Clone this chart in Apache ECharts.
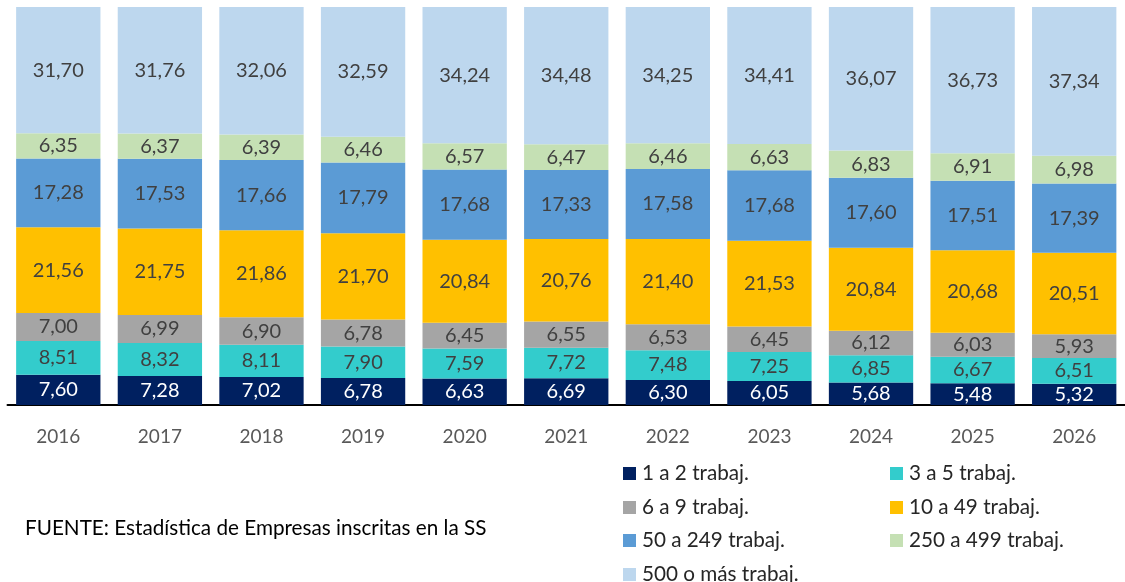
<!DOCTYPE html>
<html>
<head>
<meta charset="utf-8">
<script src="https://cdn.jsdelivr.net/npm/echarts@6/dist/echarts.min.js"></script>
<style>
html,body{margin:0;padding:0;background:#fff;}
#c{width:1125px;height:582px;}
</style>
</head>
<body>
<div id="c"></div>
<script>
const years = ['2016','2017','2018','2019','2020','2021','2022','2023','2024','2025','2026'];
const seriesNames = ['1 a 2 trabaj.','3 a 5 trabaj.','6 a 9 trabaj.','10 a 49 trabaj.','50 a 249 trabaj.','250 a 499 trabaj.','500 o más trabaj.'];
const s1a2 = [7.60,7.28,7.02,6.78,6.63,6.69,6.30,6.05,5.68,5.48,5.32];
const s3a5 = [8.51,8.32,8.11,7.90,7.59,7.72,7.48,7.25,6.85,6.67,6.51];
const s6a9 = [7.00,6.99,6.90,6.78,6.45,6.55,6.53,6.45,6.12,6.03,5.93];
const s10a49 = [21.56,21.75,21.86,21.70,20.84,20.76,21.40,21.53,20.84,20.68,20.51];
const s50a249 = [17.28,17.53,17.66,17.79,17.68,17.33,17.58,17.68,17.60,17.51,17.39];
const s250a499 = [6.35,6.37,6.39,6.46,6.57,6.47,6.46,6.63,6.83,6.91,6.98];
const s500 = [31.70,31.76,32.06,32.59,34.24,34.48,34.25,34.41,36.07,36.73,37.34];
const sourceText = 'FUENTE: Estadística de Empresas inscritas en la SS';

const values = [s1a2,s3a5,s6a9,s10a49,s50a249,s250a499,s500];
const colors = ['#002060','#33CCCC','#A5A5A5','#FFC000','#5B9BD5','#C5E0B4','#BDD7EE'];
const FONT = 'Lato';

const chart = echarts.init(document.getElementById('c'));
const series = values.map((v,i)=>({
  name: seriesNames[i],
  type: 'bar',
  stack: 'total',
  data: v,
  barCategoryGap: '17%',
  itemStyle: {color: colors[i]},
  label: {
    show: true,
    position: 'inside',
    fontFamily: FONT,
    fontSize: 20,
    color: i===0 ? '#ffffff' : '#404040',
    formatter: p => p.value.toFixed(2).replace('.', ',')
  },
  emphasis: {disabled: true}
}));

// legend layout: [series index, left, top]
const legendPos = [[0,623,463],[1,890,463],[2,623,497],[3,890,497],[4,623,530],[5,890,530],[6,623,564]];
const legends = legendPos.map(([i,l,t]) => ({
  left: l, top: t, padding: 0,
  icon: 'rect', itemWidth: 13, itemHeight: 13, itemGap: 0,
  textStyle: {fontFamily: FONT, fontSize: 20.7, color: '#262626', padding:[0,0,0,1]},
  selectedMode: false,
  data: [seriesNames[i]]
}));

chart.setOption({
  animation: false,
  grid: {left: 7.5, right: -5.5, top: 7, bottom: 177},
  xAxis: {
    type: 'category',
    data: years,
    axisLine: {lineStyle: {color: '#000000', width: 2}},
    axisTick: {show: false},
    axisLabel: {fontFamily: FONT, fontSize: 19, color: '#595959', margin: 22}
  },
  yAxis: {type: 'value', min: 0, max: 100, show: false},
  legend: legends,
  graphic: [{
    type: 'text', left: 25, top: 518,
    style: {text: sourceText, fontFamily: FONT, fontSize: 20.7, fill: '#000000'}
  }],
  series: series
});
</script>
</body>
</html>
